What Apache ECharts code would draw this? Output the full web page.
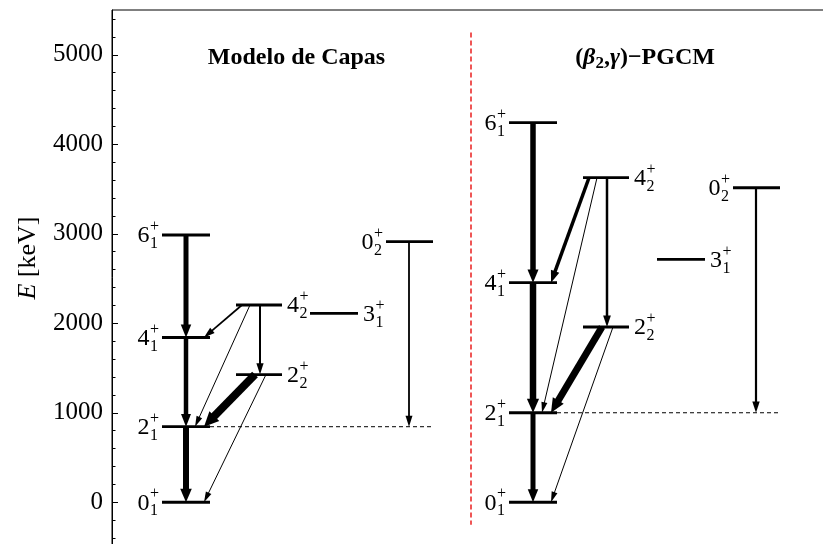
<!DOCTYPE html>
<html><head><meta charset="utf-8">
<script src="https://cdn.jsdelivr.net/npm/echarts@6/dist/echarts.min.js"></script>
<style>html,body{margin:0;padding:0;background:#fff}#c{width:823px;height:544px}</style>
</head><body><div id="c"></div>
<script>
// ---------------- DATA ----------------
const panelTitles = ['Modelo de Capas', '(β2,γ)−PGCM'];
const yTickValues = [0, 1000, 2000, 3000, 4000, 5000];
const levelKeys  = ['0_1', '2_1', '4_1', '6_1', '2_2', '4_2', '3_1', '0_2'];
const levelSpin  = ['0', '2', '4', '6', '2', '4', '3', '0'];
const levelIndex = ['1', '1', '1', '1', '2', '2', '1', '2'];
const levelBand  = ['g', 'g', 'g', 'g', 'gam', 'gam', 'three', 'zero'];
const energySM   = [0, 844, 1841, 2986, 1427, 2204, 2111, 2911];
const energyPGCM = [0, 1000, 2453, 4241, 1958, 3626, 2714, 3514];
const transFrom  = ['2_1', '4_1', '6_1', '4_2', '4_2', '4_2', '2_2', '2_2', '0_2'];
const transTo    = ['0_1', '2_1', '4_1', '4_1', '2_1', '2_2', '2_1', '0_1', '2_1'];
const strengthSM   = [6, 4.5, 5, 1.7, 1, 2, 8, 1, 1.8];
const strengthPGCM = [5, 6.5, 5.5, 3.5, 1, 2.5, 7, 1, 2.2];

// ---------------- LAYOUT ----------------
const panelOrigin = [50, 397];
const columnSpan = { g: [0, 48], gam: [74, 120], three: [148, 196], zero: [224, 271] };
const labelSide  = { g: 'left', gam: 'right', three: 'right', zero: 'left' };
const arrowX = [[24, 24], [24, 24], [24, 24], [80, 42], [88, 33], [98, 98], [93, 42], [104, 42], [247, 247]];
const separatorX = 359;

const FONT = '"Liberation Serif", "Times New Roman", serif';
const mainFont = '24px ' + FONT, smallFont = '16px ' + FONT;
const mctx = document.createElement('canvas').getContext('2d');
function tw(t, f) { mctx.font = f; return mctx.measureText(t).width; }

const energies = [energySM, energyPGCM];
const strengths = [strengthSM, strengthPGCM];
const levelItems = [];
const arrowItems = [];
const guideItems = [];
energies.forEach((E, mi) => {
  levelKeys.forEach((k, li) => {
    const col = columnSpan[levelBand[li]];
    levelItems.push({ x0: panelOrigin[mi] + col[0], x1: panelOrigin[mi] + col[1], E: E[li],
      spin: levelSpin[li], idx: levelIndex[li], side: labelSide[levelBand[li]] });
  });
  transFrom.forEach((f, ti) => {
    arrowItems.push({ x0: panelOrigin[mi] + arrowX[ti][0], E0: E[levelKeys.indexOf(f)],
      x1: panelOrigin[mi] + arrowX[ti][1], E1: E[levelKeys.indexOf(transTo[ti])], w: strengths[mi][ti] });
  });
  guideItems.push({ x0: panelOrigin[mi] + columnSpan.g[1], x1: panelOrigin[mi] + columnSpan.zero[1],
    E0: E[levelKeys.indexOf('2_1')], E1: E[levelKeys.indexOf('2_1')], color: '#000', w: 1, dash: [4, 3] });
});
guideItems.push({ x0: separatorX, x1: separatorX, E0: 5250, E1: -250, color: '#ee4444', w: 1.8, dash: [5, 3] });

function txt(text, x, y, font, align) {
  return { type: 'text', x: x, y: y, style: { text: text, font: font, fill: '#000',
    align: align || 'left', textAlign: align || 'left', verticalAlign: 'middle', textVerticalAlign: 'middle' } };
}

function renderLevel(params, api) {
  const d = levelItems[params.dataIndex];
  const a = api.coord([d.x0, d.E]), b = api.coord([d.x1, d.E]);
  const y = a[1];
  const wD = tw(d.spin, mainFont);
  const wS = Math.max(tw('+', smallFont), tw(d.idx, smallFont));
  let dl, sl;
  if (d.side === 'left') { sl = a[0] - 3 - wS; dl = sl - wD - 0.5; }
  else { dl = b[0] + 5; sl = dl + wD + 0.5; }
  return { type: 'group', children: [
    { type: 'line', shape: { x1: a[0], y1: y, x2: b[0], y2: y }, style: { stroke: '#000', lineWidth: 2.8 } },
    txt(d.spin, dl, y + 1, mainFont),
    txt('+', sl, y - 8, smallFont),
    txt(d.idx, sl, y + 9, smallFont)
  ] };
}

function renderArrow(params, api) {
  const d = arrowItems[params.dataIndex];
  const p = api.coord([d.x0, d.E0]), q = api.coord([d.x1, d.E1]);
  const dx = q[0] - p[0], dy = q[1] - p[1], len = Math.hypot(dx, dy);
  const ux = dx / len, uy = dy / len, px = -uy, py = ux;
  const hw = 5 + 1.1 * d.w, hl = 10 + 0.6 * d.w;
  const bx = q[0] - ux * hl, by = q[1] - uy * hl;
  return { type: 'group', children: [
    { type: 'line', shape: { x1: p[0], y1: p[1], x2: bx + ux * 2, y2: by + uy * 2 },
      style: { stroke: '#000', lineWidth: d.w } },
    { type: 'polygon', shape: { points: [[q[0], q[1]], [bx + px * hw / 2, by + py * hw / 2], [bx - px * hw / 2, by - py * hw / 2]] },
      style: { fill: '#000' } }
  ] };
}

function renderGuide(params, api) {
  const d = guideItems[params.dataIndex];
  const p = api.coord([d.x0, d.E0]), q = api.coord([d.x1, d.E1]);
  return { type: 'line', shape: { x1: p[0], y1: p[1], x2: q[0], y2: q[1] },
    style: { stroke: d.color, lineWidth: d.w, lineDash: d.dash } };
}

function composed(fragments, cx, cy) {
  const total = fragments.reduce((s, f) => s + tw(f[0], f[1]), 0);
  let x = cx - total / 2;
  return fragments.map(f => { const e = txt(f[0], x, cy + (f[2] || 0), f[1]); x += tw(f[0], f[1]); return e; });
}
const bold = 'bold 24px ' + FONT, boldIt = 'bold italic 24px ' + FONT, boldSub = 'bold 17px ' + FONT;
const title1 = composed([[panelTitles[0], bold]], 296.5, 58);
const title2 = composed([['(', bold], ['β', boldIt], ['2', boldSub, 6], [',', bold], ['γ', boldIt], [')−PGCM', bold]], 645, 58);
const yName = { type: 'group', x: 28, y: 258, rotation: Math.PI / 2,
  children: composed([['E', 'italic 26px ' + FONT], [' [keV]', '26px ' + FONT]], 0, 0) };

const minorTicks = [];
for (let v = -400; v <= 5400; v += 200) if (v % 1000 !== 0) minorTicks.push(v);

const chart = echarts.init(document.getElementById('c'), null, { renderer: 'canvas' });
chart.setOption({
  animation: false,
  backgroundColor: '#fff',
  grid: { left: 112, top: 10, width: 730, height: 537, outerBoundsMode: 'none', containLabel: false,
    show: true, borderColor: '#000', borderWidth: 1, backgroundColor: 'transparent' },
  xAxis: { type: 'value', min: 0, max: 730, show: false },
  yAxis: [
    { type: 'value', min: -500, max: 5500, position: 'left',
      axisLine: { show: true, lineStyle: { color: '#000', width: 1 } },
      axisTick: { show: true, inside: true, length: 6, customValues: yTickValues, lineStyle: { color: '#000' } },
      axisLabel: { show: true, customValues: yTickValues, margin: 9, color: '#000', fontSize: 25, fontFamily: FONT,
        formatter: v => String(v) },
      splitLine: { show: false } },
    { type: 'value', min: -500, max: 5500, position: 'left',
      axisLine: { show: false },
      axisTick: { show: true, inside: true, length: 3.5, customValues: minorTicks, lineStyle: { color: '#000' } },
      axisLabel: { show: false }, splitLine: { show: false } }
  ],
  graphic: [].concat(title1, title2, [yName]),
  series: [
    { type: 'custom', name: 'guides', renderItem: renderGuide, data: guideItems.map(d => [d.x0, d.E0, d.x1, d.E1]), silent: true, z: 1 },
    { type: 'custom', name: 'levels', renderItem: renderLevel, data: levelItems.map(d => [d.x0, d.E, d.x1]), silent: true, z: 2 },
    { type: 'custom', name: 'transitions', renderItem: renderArrow, data: arrowItems.map(d => [d.x0, d.E0, d.x1, d.E1, d.w]), silent: true, z: 3 }
  ]
});
</script></body></html>
